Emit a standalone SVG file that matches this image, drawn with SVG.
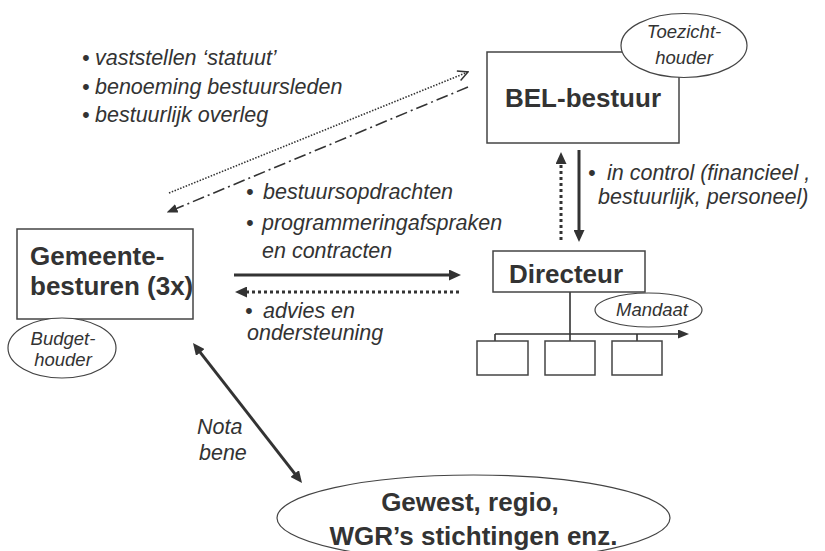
<svg xmlns="http://www.w3.org/2000/svg" width="825" height="551" viewBox="0 0 825 551">
<style>
.box{fill:#fff;stroke:#444;stroke-width:1.5}
.ell{fill:#fff;stroke:#444;stroke-width:1.2}
.b{font-family:"Liberation Sans",Arial,sans-serif;font-weight:bold;font-size:26px;fill:#333}
.i{font-family:"Liberation Sans",Arial,sans-serif;font-style:italic;font-size:21.5px;fill:#333}
.s{font-family:"Liberation Sans",Arial,sans-serif;font-style:italic;font-size:18.5px;fill:#333}
.thick{stroke:#333;stroke-width:3;fill:none}
.dot{stroke-dasharray:3 3}
.thin{stroke:#333;stroke-width:1.6;fill:none}
</style>
<defs>
<marker id="ah" markerUnits="userSpaceOnUse" markerWidth="12" markerHeight="11" refX="4" refY="5.5" orient="auto-start-reverse"><path d="M0,0 L12,5.5 L0,11 z" fill="#333"/></marker>
<marker id="ahs" markerUnits="userSpaceOnUse" markerWidth="11" markerHeight="9" refX="3" refY="4.5" orient="auto"><path d="M0,0 L11,4.5 L0,9 z" fill="#333"/></marker>
<marker id="open" markerUnits="userSpaceOnUse" markerWidth="12" markerHeight="12" refX="11" refY="6" orient="auto"><path d="M1,1 L11,6 L1,11" fill="none" stroke="#333" stroke-width="1.5"/></marker>
</defs>

<g id="connectors">
  <line class="thin" x1="169" y1="193" x2="468" y2="72" stroke-width="1.3" stroke-dasharray="1.5 1.5" marker-end="url(#open)"/>
  <line class="thin" x1="468" y1="87" x2="174" y2="209.5" stroke-dasharray="12 4 2 4" marker-end="url(#ahs)"/>
  <line class="thick" x1="579" y1="150" x2="579" y2="234" marker-end="url(#ah)"/>
  <line class="thick dot" x1="561" y1="240" x2="561" y2="160" marker-end="url(#ah)"/>
  <line class="thick" x1="234" y1="275" x2="453" y2="275" marker-end="url(#ah)"/>
  <line class="thick dot" x1="459" y1="292" x2="243" y2="292" marker-end="url(#ah)"/>
  <line class="thick" x1="197.9" y1="349.3" x2="297.1" y2="476.7" marker-start="url(#ah)" marker-end="url(#ah)"/>
  <path class="thin" stroke-width="2" d="M570,292 V341 M495,341 V334 M637,334 V341"/>
  <line class="thin" stroke-width="2" x1="495" y1="334" x2="681" y2="334" marker-end="url(#ahs)"/>
</g>

<g id="bel-bestuur">
  <rect class="box" x="487" y="52" width="192" height="91"/>
  <text class="b" x="583" y="107" text-anchor="middle">BEL-bestuur</text>
</g>
<g id="toezichthouder">
  <ellipse class="ell" cx="684" cy="45.5" rx="63" ry="32"/>
  <text class="s" x="684" y="38" text-anchor="middle">Toezicht-</text>
  <text class="s" x="684" y="64" text-anchor="middle">houder</text>
</g>
<g id="gemeentebesturen">
  <rect class="box" x="17" y="229" width="176" height="90"/>
  <text class="b" x="30" y="265">Gemeente-</text>
  <text class="b" x="30" y="295">besturen (3x)</text>
</g>
<g id="budgethouder">
  <ellipse class="ell" cx="62" cy="348" rx="54" ry="30"/>
  <text class="s" x="63" y="345" text-anchor="middle">Budget-</text>
  <text class="s" x="63" y="366" text-anchor="middle">houder</text>
</g>
<g id="directeur">
  <rect class="box" x="493" y="251" width="152" height="41"/>
  <text class="b" x="566" y="283" text-anchor="middle">Directeur</text>
</g>
<g id="mandaat">
  <ellipse class="ell" cx="648.5" cy="310" rx="53.5" ry="17"/>
  <text class="s" x="652" y="316" text-anchor="middle">Mandaat</text>
</g>
<g id="afdelingen">
  <rect class="box" x="477" y="341" width="51" height="34"/>
  <rect class="box" x="545" y="341" width="50" height="34"/>
  <rect class="box" x="612" y="341" width="50" height="34"/>
</g>
<g id="gewest">
  <ellipse class="ell" cx="473.5" cy="518" rx="196.5" ry="43"/>
  <text class="b" x="470" y="511" text-anchor="middle">Gewest, regio,</text>
  <text class="b" x="473.5" y="545" text-anchor="middle">WGR’s stichtingen enz.</text>
</g>

<g id="labels">
  <text class="i" x="82" y="65">•</text><text class="i" x="95" y="65">vaststellen ‘statuut’</text>
  <text class="i" x="82" y="93.5">•</text><text class="i" x="95" y="93.5">benoeming bestuursleden</text>
  <text class="i" x="82" y="122">•</text><text class="i" x="95" y="122">bestuurlijk overleg</text>
  <text class="i" x="246" y="199">•</text><text class="i" x="263" y="199">bestuursopdrachten</text>
  <text class="i" x="246" y="230">•</text><text class="i" x="262" y="230">programmeringafspraken</text>
  <text class="i" x="262" y="258">en contracten</text>
  <text class="i" x="245" y="318">•</text><text class="i" x="263" y="318">advies en</text>
  <text class="i" x="247" y="340">ondersteuning</text>
  <text class="i" x="588" y="180">•</text><text class="i" x="607" y="180">in control (financieel ,</text>
  <text class="i" x="598" y="204">bestuurlijk, personeel)</text>
  <text class="i" x="197" y="434">Nota</text>
  <text class="i" x="199" y="460">bene</text>
</g>
</svg>
